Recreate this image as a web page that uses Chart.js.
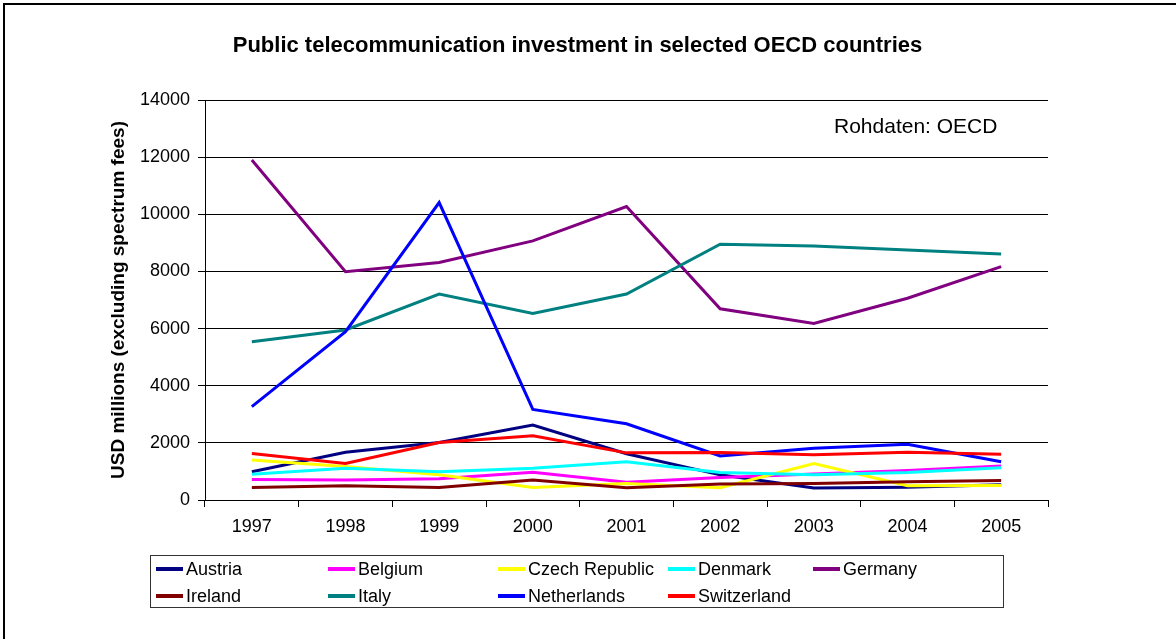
<!DOCTYPE html>
<html>
<head>
<meta charset="utf-8">
<script src="https://cdn.jsdelivr.net/npm/chart.js@4"></script>
<style>
  body { margin: 0; background: #fff; font-family: 'Liberation Sans', Arial, sans-serif; }
  #wrap { position: relative; width: 1176px; height: 639px; overflow: hidden; }
  #frame { position: absolute; left: 3px; top: 3px; width: 1190px; height: 660px; border: 2px solid #000; }
  #chart { position: absolute; left: 0; top: 0; }
  #source { position: absolute; left: 834px; top: 114px; font-size: 21px; line-height: 24px; color: #000; }
  #legend { position: absolute; left: 150px; top: 555px; width: 852px; height: 51px; border: 1px solid #333; }
  #legend .item { position: absolute; height: 27px; line-height: 27px; font-size: 18px; color: #000; white-space: nowrap; }
  #legend .swatch { display: inline-block; width: 27px; height: 4px; vertical-align: middle; margin-right: 3px; position: relative; top: -1px; }
</style>
</head>
<body>
<div id="wrap">
  <div id="frame"></div>
  <canvas id="chart" width="1176" height="639"></canvas>
  <div id="source">Rohdaten: OECD</div>
  <div id="legend"></div>
</div>
<script>
// values (USD millions)
const years = ['1997', '1998', '1999', '2000', '2001', '2002', '2003', '2004', '2005'];
const austria     = [990, 1670, 2010, 2620, 1620, 880, 420, 450, 530];
const belgium     = [720, 700, 740, 970, 620, 790, 910, 1030, 1190];
const czech       = [1400, 1170, 880, 440, 580, 430, 1280, 500, 510];
const denmark     = [900, 1110, 990, 1110, 1340, 960, 880, 960, 1130];
const germany     = [11900, 7990, 8310, 9070, 10270, 6690, 6180, 7060, 8170];
const ireland     = [440, 500, 440, 700, 430, 560, 580, 640, 680];
const italy       = [5540, 5950, 7210, 6530, 7210, 8950, 8890, 8750, 8610];
const netherlands = [3270, 5890, 10410, 3170, 2670, 1540, 1810, 1950, 1340];
const switzerland = [1630, 1280, 2010, 2250, 1650, 1660, 1580, 1670, 1600];

const seriesNames = ['Austria', 'Belgium', 'Czech Republic', 'Denmark', 'Germany',
                     'Ireland', 'Italy', 'Netherlands', 'Switzerland'];
const seriesData = [austria, belgium, czech, denmark, germany, ireland, italy, netherlands, switzerland];
const seriesColors = ['#000080', '#FF00FF', '#FFFF00', '#00FFFF', '#800080',
                      '#800000', '#008080', '#0000FF', '#FF0000'];

const font = "'Liberation Sans', Arial, sans-serif";

const datasets = seriesNames.map((name, i) => ({
  label: name,
  data: seriesData[i],
  borderColor: seriesColors[i],
  backgroundColor: seriesColors[i],
  borderWidth: 3,
  pointRadius: 0,
  tension: 0,
  fill: false,
  order: seriesNames.length - i   // later series on top, like excel
}));

new Chart(document.getElementById('chart'), {
  type: 'line',
  data: { labels: years, datasets: datasets },
  options: {
    responsive: false,
    animation: false,
    layout: { padding: { left: 107, right: 128, top: 0, bottom: 99 } },
    plugins: {
      legend: { display: false },
      tooltip: { enabled: false },
      title: {
        display: true,
        text: 'Public telecommunication investment in selected OECD countries',
        color: '#000',
        font: { family: font, size: 22, weight: 'bold' },
        padding: { top: 33, bottom: 40.6 }
      }
    },
    scales: {
      x: {
        offset: true,
        afterFit: s => { s.height = 40; },
        grid: { offset: true, drawOnChartArea: false, drawTicks: true, tickLength: 7, color: '#000' },
        border: { display: true, color: '#000', width: 1 },
        ticks: { color: '#000', font: { family: font, size: 18 }, padding: 9, maxRotation: 0 }
      },
      y: {
        min: 0,
        max: 14000,
        afterFit: s => { s.width = 98; },
        grid: { color: '#000', lineWidth: 1, drawTicks: true, tickLength: 7 },
        border: { display: true, color: '#000', width: 1 },
        ticks: {
          stepSize: 2000,
          color: '#000',
          font: { family: font, size: 18 },
          padding: 8,
          callback: v => String(v)
        },
        title: {
          display: true,
          text: 'USD millions (excluding spectrum fees)',
          color: '#000',
          font: { family: font, size: 19, weight: 'bold' },
          padding: 0
        }
      }
    }
  }
});

// legend as in the original: two rows, uneven columns
const colLeft = [5, 177, 347, 517, 662];
const legend = document.getElementById('legend');
seriesNames.forEach((name, i) => {
  const row = i < 5 ? 0 : 1;
  const col = i < 5 ? i : i - 5;
  const item = document.createElement('div');
  item.className = 'item';
  item.style.left = colLeft[col] + 'px';
  item.style.top = (row * 27) + 'px';
  item.innerHTML = '<span class="swatch" style="background:' + seriesColors[i] + '"></span>' + name;
  legend.appendChild(item);
});
</script>
</body>
</html>
